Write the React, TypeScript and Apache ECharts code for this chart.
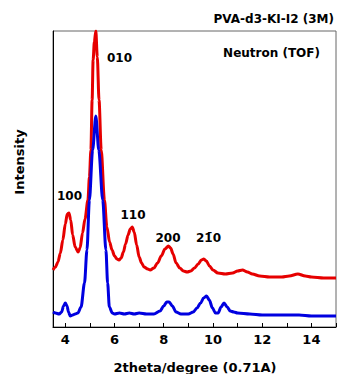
import React, { useEffect, useRef } from "react";
import * as echarts from "echarts";

const redX = [3.5, 3.6, 3.7, 3.8, 3.9, 4.0, 4.08, 4.15, 4.22, 4.3, 4.4, 4.52, 4.6, 4.7, 4.8, 4.92, 4.98, 5.04, 5.09, 5.13, 5.18, 5.24, 5.3, 5.37, 5.46, 5.59, 5.69, 5.8, 5.9, 6.0, 6.1, 6.18, 6.27, 6.36, 6.45, 6.55, 6.64, 6.72, 6.8, 6.9, 7.0, 7.1, 7.2, 7.35, 7.45, 7.6, 7.75, 7.9, 8.05, 8.19, 8.28, 8.38, 8.5, 8.65, 8.8, 8.95, 9.1, 9.25, 9.4, 9.53, 9.63, 9.73, 9.86, 10.0, 10.2, 10.5, 10.8, 11.0, 11.2, 11.4, 11.6, 11.9, 12.3, 12.8, 13.1, 13.45, 13.75, 14.0, 14.5, 15.0];
const redI = [57, 60, 65, 74, 87, 103, 113, 114, 107, 92, 80, 75, 79, 94, 108, 127, 150, 177, 227, 267, 285, 296, 270, 227, 177, 127, 100, 85, 77, 71, 68, 67, 69, 75, 83, 92, 98, 100, 95, 82, 70, 64, 60, 58, 57, 59, 64, 71, 78, 81, 79, 73, 64, 59, 56, 55, 56, 59, 63, 67, 68, 66, 61, 57, 54, 53, 54, 56, 57, 55, 53, 51, 50, 50, 51, 53, 51, 50, 49, 49];

const blueX = [3.5, 3.6, 3.75, 3.85, 3.93, 4.0, 4.07, 4.13, 4.2, 4.3, 4.4, 4.51, 4.64, 4.78, 4.88, 4.98, 5.11, 5.24, 5.36, 5.52, 5.65, 5.72, 5.79, 5.91, 6.0, 6.2, 6.4, 6.6, 6.8, 7.0, 7.3, 7.6, 7.85, 8.0, 8.12, 8.22, 8.35, 8.5, 8.7, 9.0, 9.2, 9.35, 9.5, 9.62, 9.74, 9.85, 9.98, 10.1, 10.21, 10.33, 10.45, 10.58, 10.7, 10.85, 11.0, 11.5, 12.0, 12.5, 13.0, 13.5, 14.0, 14.5, 15.0];
const blueI = [15, 14, 13, 15, 21, 24, 21, 15, 11, 12, 13, 14, 20, 44, 77, 127, 177, 211, 177, 127, 77, 44, 20, 14, 13, 14, 13, 14, 13, 14, 13, 13, 16, 21, 25, 25, 21, 15, 13, 13, 15, 19, 24, 29, 31, 27, 19, 14, 14, 20, 24, 20, 16, 15, 14, 13, 12, 12, 12, 12, 11, 11, 11];

const tickValues = [4, 5, 6, 7, 8, 9, 10, 11, 12, 13, 14, 15];
const labelValues = [4, 6, 8, 10, 12, 14];

const chartTitle = "PVA-d3-KI-I2 (3M)";
const subTitle = "Neutron (TOF)";
const xName = "2theta/degree (0.71A)";
const yName = "Intensity";
const peakLabels = ["100", "010", "110", "200", "21\u03040"];

const FONT = '"DejaVu Sans", sans-serif';

export default function App() {
  const ref = useRef<HTMLDivElement>(null);
  useEffect(() => {
    if (!ref.current) return;
    const chart = echarts.init(ref.current, null, { renderer: "svg" });
    const lbl = (text: string, x: number, y: number, size = 12, align = "center") => ({
      type: "text",
      x,
      y,
      style: {
        text,
        fill: "#000",
        font: `bold ${size}px ${FONT}`,
        align,
        verticalAlign: "middle",
      },
    });
    chart.setOption({
      animation: false,
      backgroundColor: "#fff",
      grid: {
        left: 53,
        right: 1,
        top: 31,
        bottom: 47,
        show: true,
        borderColor: "#666",
        borderWidth: 1,
        backgroundColor: "transparent",
      },
      xAxis: {
        type: "value",
        min: 3.5,
        max: 15,
        axisLine: { show: true, lineStyle: { color: "#000", width: 1 } },
        axisTick: {
          show: true,
          inside: true,
          length: 4,
          customValues: tickValues,
          lineStyle: { color: "#000" },
        },
        axisLabel: {
          customValues: labelValues,
          color: "#000",
          fontSize: 13,
          fontWeight: "bold",
          fontFamily: FONT,
          margin: 6,
        },
        splitLine: { show: false },
      },
      yAxis: {
        type: "value",
        min: 0,
        max: 296,
        axisLine: { show: true, lineStyle: { color: "#000", width: 1 } },
        axisTick: { show: false },
        axisLabel: { show: false },
        splitLine: { show: false },
      },
      series: [
        {
          type: "line",
          data: redX.map((x, i) => [x, redI[i]]),
          showSymbol: false,
          smooth: 0.3,
          smoothMonotone: "x",
          clip: true,
          lineStyle: { color: "#e60000", width: 3 },
        },
        {
          type: "line",
          data: blueX.map((x, i) => [x, blueI[i]]),
          showSymbol: false,
          smooth: 0.3,
          smoothMonotone: "x",
          clip: true,
          lineStyle: { color: "#0000e0", width: 3 },
        },
      ],
      graphic: [
        lbl(chartTitle, 334, 19, 12, "right"),
        lbl(subTitle, 320, 53, 12, "right"),
        lbl(xName, 195, 367, 13),
        {
          type: "text",
          x: 19,
          y: 162,
          rotation: Math.PI / 2,
          style: {
            text: yName,
            fill: "#000",
            font: `bold 13px ${FONT}`,
            align: "center",
            verticalAlign: "middle",
          },
        },
        lbl(peakLabels[0], 69.5, 196),
        lbl(peakLabels[1], 119.5, 58),
        lbl(peakLabels[2], 133, 215),
        lbl(peakLabels[3], 168, 238),
        lbl(peakLabels[4], 208.5, 238),
      ],
    });
    return () => chart.dispose();
  }, []);
  return (
    <div
      ref={ref}
      style={{ position: "fixed", left: 0, top: 0, width: 337, height: 374 }}
    />
  );
}
